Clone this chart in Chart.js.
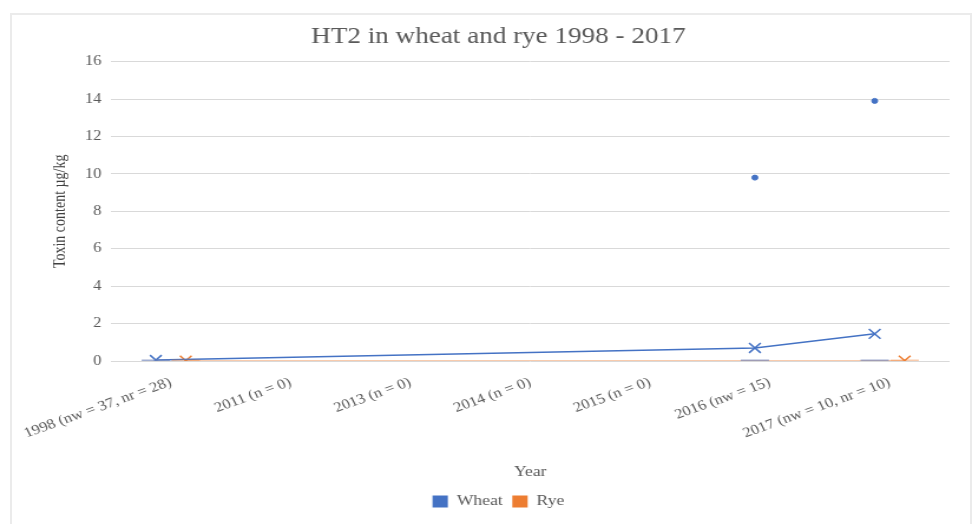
<!DOCTYPE html>
<html>
<head>
<meta charset="utf-8">
<title>HT2 in wheat and rye 1998 - 2017</title>
<script src="https://cdn.jsdelivr.net/npm/chart.js@4.4.1/dist/chart.umd.min.js"></script>
<style>
  html, body { margin: 0; padding: 0; background: #fff; overflow: hidden; }
  #frame {
    position: absolute; left: 10px; top: 13px; width: 958px; height: 520px;
    border: 2px solid #ebebeb; border-bottom: none;
  }
  /* the chart is drawn a little narrow and widened to fill the page */
  #wrap {
    position: absolute; left: 0; top: 0; width: 824px; height: 524px;
    transform: scaleX(1.1796); transform-origin: 0 0;
  }
</style>
</head>
<body>
<div id="frame"></div>
<div id="wrap"><canvas id="ht2Chart" width="824" height="524"></canvas></div>
<script>
// Years sampled, with number of wheat (nw) and rye (nr) samples
var categories = [
  '1998 (nw = 37, nr = 28)',
  '2011 (n = 0)',
  '2013 (n = 0)',
  '2014 (n = 0)',
  '2015 (n = 0)',
  '2016 (nw = 15)',
  '2017 (nw = 10, nr = 10)'
];

// Mean HT2 content, µg/kg (null = no samples)
var wheatMean = [0.05, null, null, null, null, 0.7, 1.45];
var ryeMean   = [0.02, null, null, null, null, null, 0.02];

// Box level (quartiles all sit at zero)
var wheatBox = [0, null, null, null, null, 0, 0];
var ryeBox   = [0, null, null, null, null, null, 0];

// Outliers per year
var wheatOutliers = [[], [], [], [], [], [9.8], [13.9]];
var ryeOutliers   = [[], [], [], [], [], [], []];

var yTicks = [0, 2, 4, 6, 8, 10, 12, 14, 16];

var colors = {
  wheat: '#4472c4',
  rye: '#ed7d31',
  wheatBox: 'rgba(110, 130, 185, 0.65)',
  ryeBox: 'rgba(237, 125, 49, 0.4)',
  grid: '#d9d9d9',
  text: '#595959'
};
var fontFamily = "'Liberation Serif', 'Times New Roman', serif";
var shift = { wheat: -0.125, rye: 0.125 };

function toPoints(values, dx) {
  var pts = [];
  values.forEach(function(v, i) {
    if (v !== null) pts.push({ x: i + dx, y: v });
  });
  return pts;
}
function outlierPoints(lists, dx) {
  var pts = [];
  lists.forEach(function(list, i) {
    list.forEach(function(v) { pts.push({ x: i + dx, y: v }); });
  });
  return pts;
}

var ctx = document.getElementById('ht2Chart').getContext('2d');
new Chart(ctx, {
  type: 'scatter',
  data: {
    datasets: [
      {
        label: 'Wheat box',
        data: toPoints(wheatBox, shift.wheat),
        pointStyle: 'line',
        pointRadius: 12,
        borderColor: colors.wheatBox,
        pointBorderWidth: 3,
        showLine: false,
        order: 0
      },
      {
        label: 'Rye box',
        data: toPoints(ryeBox, shift.rye),
        pointStyle: 'line',
        pointRadius: 12,
        borderColor: colors.ryeBox,
        pointBorderWidth: 3,
        showLine: false,
        order: 0
      },
      {
        label: 'Wheat',
        data: toPoints(wheatMean, shift.wheat),
        showLine: true,
        borderColor: colors.wheat,
        backgroundColor: colors.wheat,
        borderWidth: 1.5,
        pointStyle: 'crossRot',
        pointRadius: 7,
        pointBorderWidth: 1.5,
        pointBorderColor: colors.wheat,
        order: 1
      },
      {
        label: 'Rye',
        data: toPoints(ryeMean, shift.rye),
        showLine: true,
        borderColor: 'rgba(237, 125, 49, 0.4)',
        backgroundColor: colors.rye,
        borderWidth: 1.5,
        pointStyle: 'crossRot',
        pointRadius: 7,
        pointBorderWidth: 1.5,
        pointBorderColor: colors.rye,
        order: 2
      },
      {
        label: 'Wheat outliers',
        data: outlierPoints(wheatOutliers, shift.wheat),
        pointStyle: 'circle',
        pointRadius: 2.5,
        backgroundColor: colors.wheat,
        borderColor: colors.wheat,
        showLine: false,
        order: 1
      },
      {
        label: 'Rye outliers',
        data: outlierPoints(ryeOutliers, shift.rye),
        pointStyle: 'circle',
        pointRadius: 2.5,
        backgroundColor: colors.rye,
        borderColor: colors.rye,
        showLine: false,
        order: 2
      }
    ]
  },
  options: {
    responsive: false,
    animation: false,
    layout: { padding: { left: 40, right: 19, top: 14, bottom: 5 } },
    plugins: {
      tooltip: { enabled: false },
      title: {
        display: true,
        text: 'HT2 in wheat and rye 1998 - 2017',
        color: colors.text,
        font: { family: fontFamily, size: 23, weight: 'normal' },
        padding: { top: 9, bottom: 11 }
      },
      legend: {
        display: true,
        position: 'bottom',
        labels: {
          color: colors.text,
          font: { family: fontFamily, size: 15 },
          boxWidth: 13,
          boxHeight: 12,
          padding: 8,
          filter: function(item) {
            return item.text === 'Wheat' || item.text === 'Rye';
          },
          generateLabels: function(chart) {
            return chart.data.datasets.map(function(ds, i) {
              return {
                text: ds.label,
                fillStyle: ds.backgroundColor,
                strokeStyle: ds.backgroundColor,
                lineWidth: 0,
                fontColor: colors.text,
                datasetIndex: i
              };
            });
          }
        }
      }
    },
    scales: {
      x: {
        type: 'linear',
        min: -0.5,
        max: categories.length - 0.5,
        afterBuildTicks: function(scale) {
          scale.ticks = categories.map(function(c, i) { return { value: i }; });
        },
        afterFit: function(scale) { scale.height = 125; },
        grid: { display: false },
        border: { display: false },
        ticks: {
          minRotation: 23,
          maxRotation: 23,
          autoSkip: false,
          padding: 5,
          color: colors.text,
          font: { family: fontFamily, size: 14 },
          callback: function(value) { return categories[value]; }
        },
        title: {
          display: true,
          text: 'Year',
          color: colors.text,
          font: { family: fontFamily, size: 15 },
          padding: { top: 4, bottom: 5 }
        }
      },
      y: {
        min: 0,
        max: 16,
        afterBuildTicks: function(scale) {
          scale.ticks = yTicks.map(function(v) { return { value: v }; });
        },
        afterFit: function(scale) { scale.width = 54; },
        grid: { color: colors.grid, drawTicks: false },
        border: { display: false },
        ticks: {
          padding: 8,
          color: colors.text,
          font: { family: fontFamily, size: 14 }
        },
        title: {
          display: true,
          text: 'Toxin content µg/kg',
          color: '#404040',
          font: { family: fontFamily, size: 14 },
          padding: { top: 3, bottom: 4 }
        }
      }
    }
  }
});
</script>
</body>
</html>
